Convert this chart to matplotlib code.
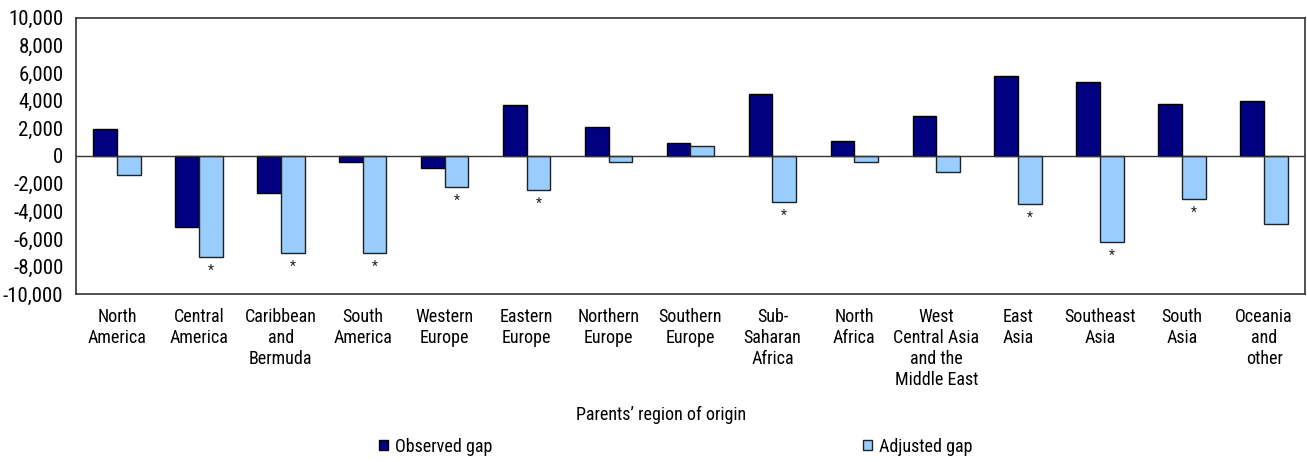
import numpy as np
import matplotlib
matplotlib.use("Agg")
import matplotlib.pyplot as plt

# Data
regions = ["North\nAmerica", "Central\nAmerica", "Caribbean\nand\nBermuda", "South\nAmerica",
           "Western\nEurope", "Eastern\nEurope", "Northern\nEurope", "Southern\nEurope",
           "Sub-\nSaharan\nAfrica", "North\nAfrica", "West\nCentral Asia\nand the\nMiddle East",
           "East\nAsia", "Southeast\nAsia", "South\nAsia", "Oceania\nand\nother"]
observed = [1950, -5100, -2700, -450, -900, 3700, 2100, 950, 4500, 1100, 2900, 5750, 5350, 3750, 3950]
adjusted = [-1400, -7300, -7000, -7000, -2250, -2450, -450, 750, -3350, -400, -1150, -3500, -6200, -3100, -4900]
significant = [False, True, True, True, True, True, False, False, True, False, False, True, True, True, False]

plt.rcParams['font.family'] = ['Liberation Sans Narrow', 'Roboto Condensed', 'DejaVu Sans']

fig = plt.figure(figsize=(13.07, 4.62), dpi=100)
ax = fig.add_axes([0.0581, 0.363, 0.9404, 0.5987])

x = np.arange(len(regions))
w = 0.29
ax.bar(x - w / 2, observed, w, color='#000080', edgecolor='black', linewidth=1, label='Observed gap')
ax.bar(x + w / 2, adjusted, w, color='#99CCFF', edgecolor='#222222', linewidth=1, label='Adjusted gap')

# significance markers under the adjusted bars
for i in range(len(regions)):
    if significant[i]:
        ax.annotate('*', (x[i] + w / 2, adjusted[i]), xytext=(0, -10), textcoords='offset points',
                    ha='center', va='center', fontsize=10, color='#222222')

ax.axhline(0, color='#333333', linewidth=1)
ax.set_xlim(-0.5, len(regions) - 0.5)
ax.set_ylim(-10000, 10000)
ax.set_yticks(np.arange(-10000, 10001, 2000))
ax.set_yticklabels([f"{v:,}" for v in range(-10000, 10001, 2000)], fontsize=15)
ax.set_xticks(x)
ax.set_xticklabels(regions, fontsize=13, linespacing=1.22)
ax.tick_params(axis='both', length=0)
ax.tick_params(axis='y', pad=9)
ax.tick_params(axis='x', pad=10)
for s in ax.spines.values():
    s.set_color('#333333')
    s.set_linewidth(1.2)

fig.text(0.506, 0.102, "Parents\u2019 region of origin", ha='center', va='center', fontsize=13)
fig.legend(loc='center', bbox_to_anchor=(0.517, 0.033), ncol=2, frameon=False, fontsize=13,
           handlelength=0.5, handleheight=0.5, handletextpad=0.4, columnspacing=20.5)

fig.savefig("out.png", dpi=100)
